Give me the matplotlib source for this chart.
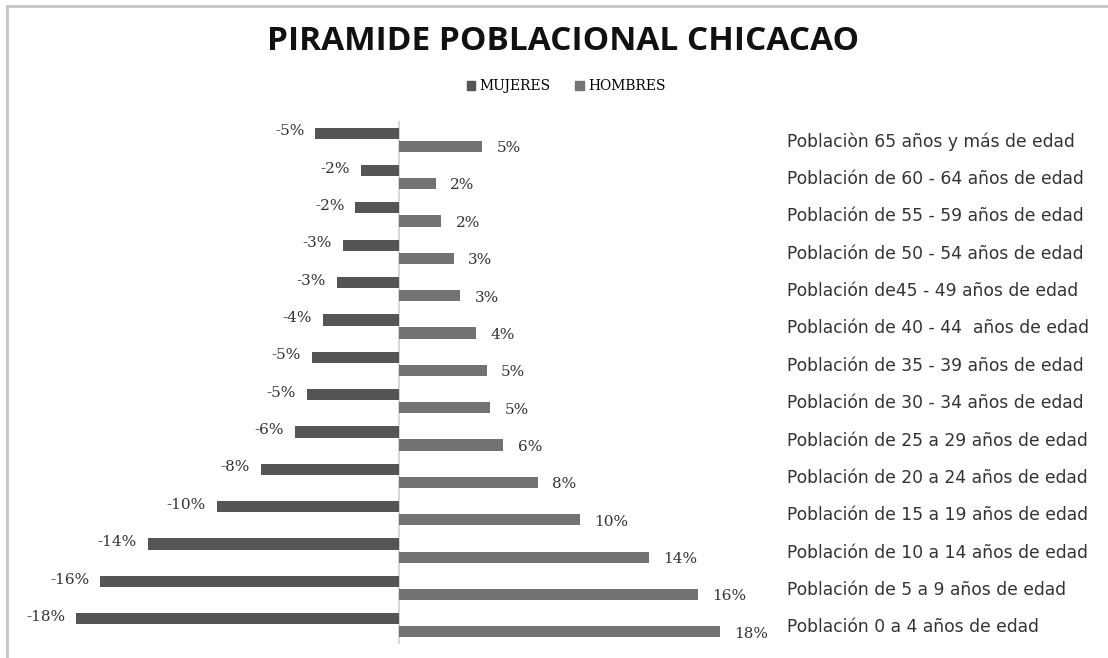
import matplotlib.pyplot as plt
from matplotlib.lines import Line2D
from matplotlib.patches import Patch

# datos, de 0-4 (abajo) a 65+ (arriba)
grupos = [
    "Población 0 a 4 años de edad",
    "Población de 5 a 9 años de edad",
    "Población de 10 a 14 años de edad",
    "Población de 15 a 19 años de edad",
    "Población de 20 a 24 años de edad",
    "Población de 25 a 29 años de edad",
    "Población de 30 - 34 años de edad",
    "Población de 35 - 39 años de edad",
    "Población de 40 - 44  años de edad",
    "Población de45 - 49 años de edad",
    "Población de 50 - 54 años de edad",
    "Población de 55 - 59 años de edad",
    "Población de 60 - 64 años de edad",
    "Poblaciòn 65 años y más de edad",
]
mujeres = [-17.7, -16.4, -13.8, -10.0, -7.6, -5.7, -5.05, -4.8, -4.2, -3.4, -3.1, -2.4, -2.1, -4.6]
hombres = [17.6, 16.4, 13.7, 9.9, 7.6, 5.7, 5.0, 4.8, 4.2, 3.35, 3.0, 2.3, 2.0, 4.55]

c_muj = '#555555'
c_hom = '#737373'
txt = '#333333'

fig = plt.figure(figsize=(11.08, 6.58), dpi=100)
ax = fig.add_axes([20 / 1108, 1 - 644 / 658, 760 / 1108, 523 / 658])

y = list(range(len(grupos)))
off = 0.175
h = 0.3
ax.barh([v + off for v in y], mujeres, height=h, color=c_muj, label='MUJERES')
ax.barh([v - off for v in y], hombres, height=h, color=c_hom, label='HOMBRES')

for i in y:
    m = mujeres[i]
    ax.text(m - 0.6, i + off + 0.05, f"{m:.0f}%", ha='right', va='center',
            fontsize=11, color=txt, family='DejaVu Serif')
    hv = hombres[i]
    ax.text(hv + 0.8, i - off - 0.05, f"{hv:.0f}%", ha='left', va='center',
            fontsize=11, color=txt, family='DejaVu Serif')

ax.axvline(0, color='#d0d0d0', lw=1.2, zorder=0)
ax.set_xlim(-20.8, 20.9)
ax.set_ylim(-0.5, len(grupos) - 0.5)
ax.set_xticks([])
ax.yaxis.tick_right()
ax.set_yticks(y)
ax.set_yticklabels(grupos, fontsize=12.3, color=txt, family='DejaVu Sans', ha='left')
ax.tick_params(axis='y', length=0, pad=5)
for s in ax.spines.values():
    s.set_visible(False)

fig.text(563 / 1108, 1 - 42 / 658, "PIRAMIDE POBLACIONAL CHICACAO", ha='center', va='center',
         fontsize=24, fontweight='bold', family='Open Sans', color='#111111')

handles = [Patch(color=c_muj), Patch(color=c_hom)]
fig.legend(handles, ['MUJERES', 'HOMBRES'], loc='center', bbox_to_anchor=(566 / 1108, 1 - 86 / 658),
           ncol=2, frameon=False, handlelength=0.6, handleheight=0.6,
           handletextpad=0.3, columnspacing=1.8, prop={'family': 'DejaVu Serif', 'size': 10})

# borde de la imagen (solo arriba e izquierda visibles)
fig.add_artist(Line2D([7 / 1108, 7 / 1108], [0, 1 - 6 / 658], color='#c4c4c4', lw=2))
fig.add_artist(Line2D([7 / 1108, 1], [1 - 6 / 658, 1 - 6 / 658], color='#c4c4c4', lw=2))

fig.savefig('out.png', dpi=100, facecolor='white')
